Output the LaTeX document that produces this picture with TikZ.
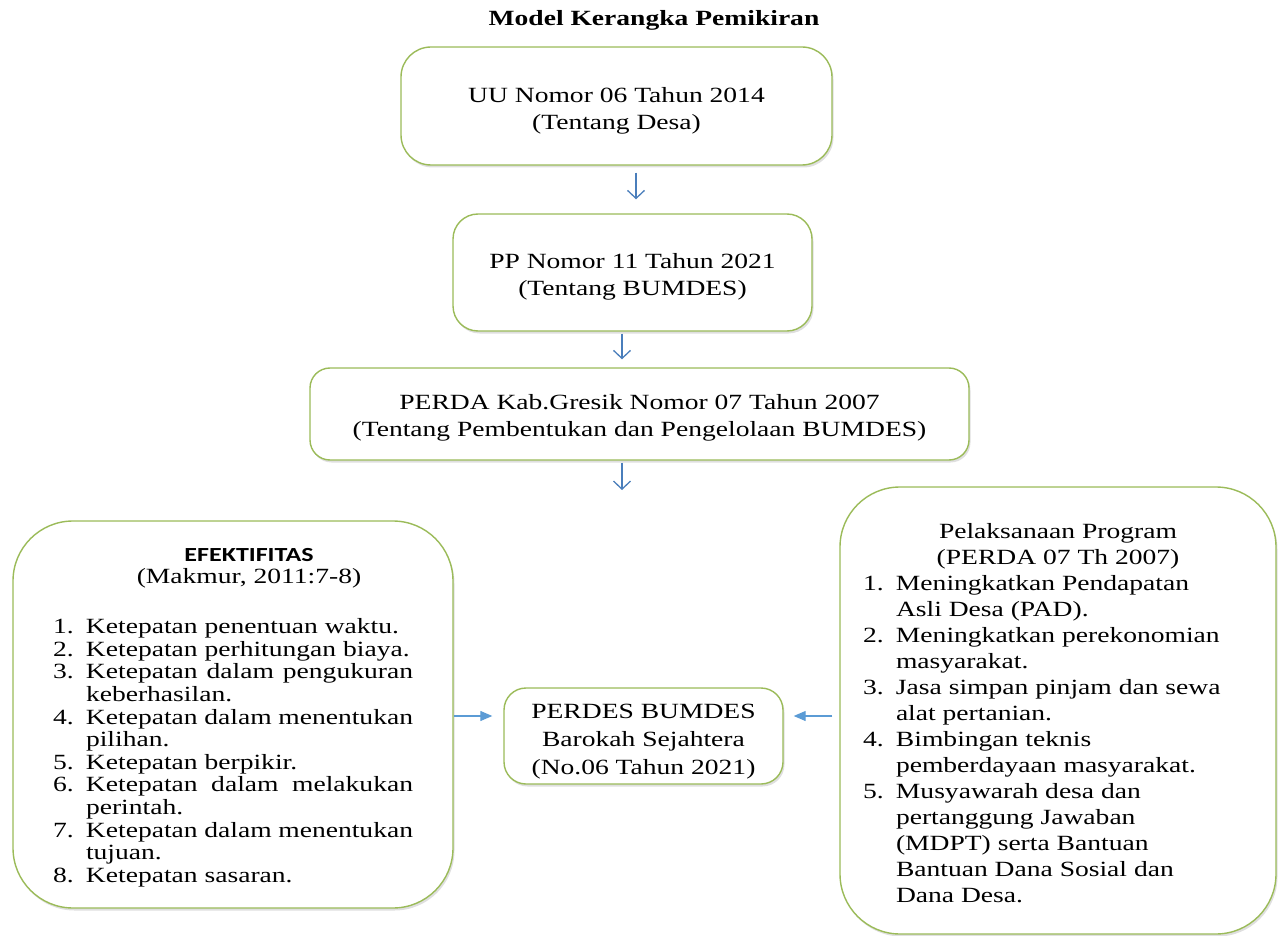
\documentclass[tikz,border=0pt]{standalone}
\usepackage{fontspec}
\setmainfont{Liberation Serif}[FakeStretch=1.27]
\newfontfamily\calibfont{Carlito}[FakeStretch=1.3]
\usetikzlibrary{shadows,arrows.meta}
\definecolor{boxgreen}{HTML}{9BBB59}
\definecolor{arrblue}{HTML}{4A7EBB}
\definecolor{arrlight}{HTML}{5B9BD5}
\newcommand\itm[1]{\par\noindent\hangindent=33pt\hangafter=1\makebox[33pt][l]{#1}}
\begin{document}
\begin{tikzpicture}[x=1pt,y=-1pt,
  box/.style={draw=boxgreen, line width=1.4pt, fill=white, rounded corners=#1,
    drop shadow={opacity=0.25, shadow xshift=1.5pt, shadow yshift=-2.5pt},
    inner sep=0pt},
  box/.default=25pt,
  txt/.style={font=\fontsize{21.7}{27}\selectfont, align=center, inner sep=0pt},
  varrow/.style={draw=arrblue, line width=1.3pt, -{Straight Barb[length=8pt,width=17pt]}},
  harrow/.style={draw=arrlight, line width=1.2pt, -{Triangle[length=12pt,width=10pt]}}]
\useasboundingbox (0,0) rectangle (1283,936);

\node[font=\bfseries\fontsize{21.7}{26}\selectfont, anchor=base] (title) at (654,26) {Model Kerangka Pemikiran};

\node[box=30pt, minimum width=431pt, minimum height=118pt] (b1) at (616.5,106) {};
\node[txt] (t1) at ([yshift=-5pt]b1.center) {UU Nomor 06 Tahun 2014\\(Tentang Desa)};

\node[box=25pt, minimum width=359pt, minimum height=117pt] (b2) at (632.5,272.5) {};
\node[txt] (t2) at ([yshift=-4pt]b2.center) {PP Nomor 11 Tahun 2021\\(Tentang BUMDES)};

\node[box=20pt, minimum width=659pt, minimum height=92pt] (b3) at (639.5,414) {};
\node[txt] (t3) at ([yshift=-4pt]b3.center) {PERDA Kab.Gresik Nomor 07 Tahun 2007\\(Tentang Pembentukan dan Pengelolaan BUMDES)};

\node[box=22pt, minimum width=279pt, minimum height=96pt] (mid) at (643.5,736) {};
\node[txt, font=\fontsize{21.7}{28}\selectfont] (tm) at ([yshift=-6pt]mid.center) {PERDES BUMDES\\Barokah Sejahtera\\(No.06 Tahun 2021)};

\node[box=60pt, minimum width=440pt, minimum height=387pt] (left) at (233,714.5) {};
\node[inner sep=0pt] (tl) at ([yshift=-3pt]left.center)
  {\parbox{360pt}{\fontsize{21.7}{22.6}\selectfont
   \noindent\makebox[360pt]{\hspace{32pt}{\calibfont\bfseries\fontsize{20}{22.6}\selectfont EFEKTIFITAS}}\\
   \makebox[360pt]{\hspace{32pt}(Makmur, 2011:7-8)}\par
   \vspace{27.4pt}
   \itm{1.}Ketepatan penentuan waktu.
   \itm{2.}Ketepatan perhitungan biaya.
   \itm{3.}Ketepatan dalam pengukuran\linebreak keberhasilan.
   \itm{4.}Ketepatan dalam menentukan\linebreak pilihan.
   \itm{5.}Ketepatan berpikir.
   \itm{6.}Ketepatan dalam melakukan\linebreak perintah.
   \itm{7.}Ketepatan dalam menentukan\linebreak tujuan.
   \itm{8.}Ketepatan sasaran.\par}};

\node[box=60pt, minimum width=436pt, minimum height=447pt] (right) at (1058,710.5) {};
\node[inner sep=0pt] (tr) at ([yshift=-3pt]right.center)
  {\parbox{390pt}{\fontsize{21.7}{26}\selectfont\raggedright
   \noindent\makebox[390pt]{Pelaksanaan Program}\\
   \makebox[390pt]{(PERDA 07 Th 2007)}
   \itm{1.}Meningkatkan Pendapatan\newline Asli Desa (PAD).
   \itm{2.}Meningkatkan perekonomian\newline masyarakat.
   \itm{3.}Jasa simpan pinjam dan sewa\newline alat pertanian.
   \itm{4.}Bimbingan teknis\newline pemberdayaan masyarakat.
   \itm{5.}Musyawarah desa dan\newline pertanggung Jawaban\newline (MDPT) serta Bantuan\newline Bantuan Dana Sosial dan\newline Dana Desa.\par}};

\coordinate (a1) at ([xshift=19.5pt]b1.south);
\draw[varrow, shorten <=7pt, shorten >=14pt] (a1) -- (a1 |- b2.north);
\coordinate (a2) at ([xshift=-10.5pt]b2.south);
\draw[varrow, shorten <=2pt, shorten >=8pt] (a2) -- (a2 |- b3.north);
\coordinate (a3) at ([xshift=-17.5pt]b3.south);
\coordinate (a3e) at (622,490);
\draw[varrow, shorten <=2pt] (a3) -- (a3e);

\coordinate (la) at ([yshift=-1.5pt]left.east);
\draw[harrow, shorten >=11pt] (la) -- (la -| mid.west);
\coordinate (ra) at ([yshift=-5.5pt]right.west);
\draw[harrow, shorten <=7pt, shorten >=10pt] (ra) -- (ra -| mid.east);
\end{tikzpicture}
\end{document}
